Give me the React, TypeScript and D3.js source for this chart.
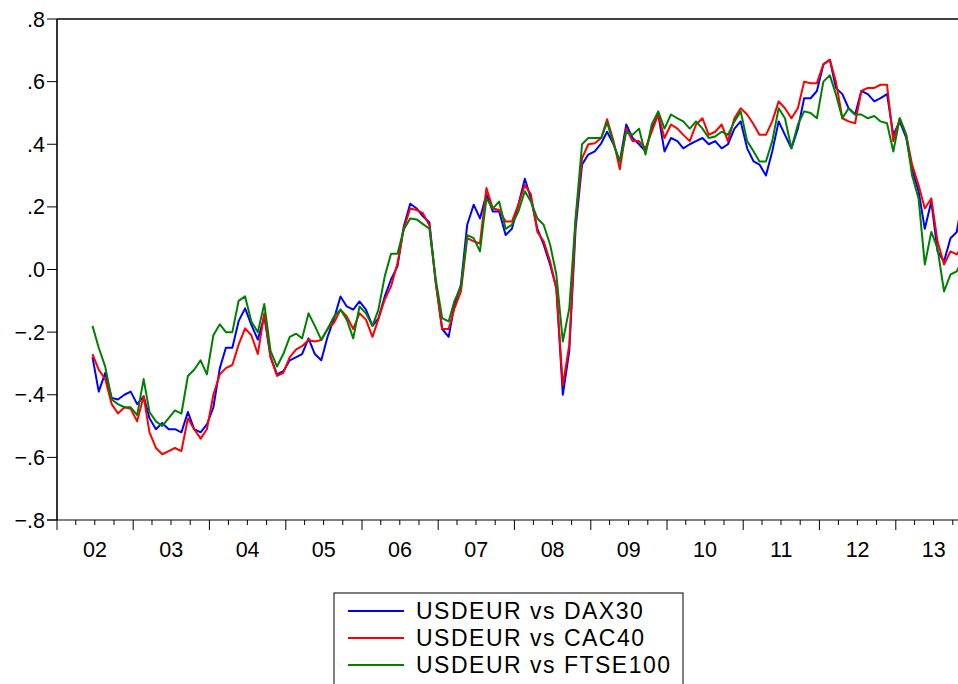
import React from "react";
import * as d3 from "d3";

// Monthly observations, June 2002 – November 2013
const dax30 = [
  -0.28, -0.39, -0.33, -0.41, -0.415, -0.40, -0.39, -0.43, -0.405, -0.475,
  -0.51, -0.49, -0.51, -0.51, -0.52, -0.455, -0.51, -0.52, -0.495, -0.44,
  -0.315, -0.25, -0.25, -0.165, -0.124, -0.177, -0.224, -0.15, -0.28, -0.335,
  -0.325, -0.29, -0.28, -0.27, -0.22, -0.27, -0.29, -0.215, -0.157, -0.086,
  -0.118, -0.128, -0.102, -0.128, -0.18, -0.157, -0.086, -0.032, 0.01, 0.137,
  0.21, 0.195, 0.17, 0.15, -0.04, -0.19, -0.215, -0.113, -0.048, 0.143,
  0.207, 0.163, 0.24, 0.185, 0.185, 0.11, 0.13, 0.207, 0.29, 0.227,
  0.13, 0.08, 0.016, -0.06, -0.40, -0.26, 0.13, 0.335, 0.367, 0.377,
  0.403, 0.44, 0.40, 0.345, 0.463, 0.42, 0.40, 0.377, 0.45, 0.495,
  0.377, 0.42, 0.41, 0.387, 0.40, 0.41, 0.42, 0.40, 0.41, 0.387,
  0.40, 0.45, 0.473, 0.387, 0.345, 0.335, 0.30, 0.377, 0.473, 0.43,
  0.387, 0.45, 0.547, 0.547, 0.57, 0.655, 0.67, 0.58, 0.56, 0.515,
  0.495, 0.57, 0.56, 0.537, 0.547, 0.56, 0.43, 0.473, 0.42, 0.32,
  0.25, 0.13, 0.217, 0.058, 0.026, 0.10, 0.12, 0.24,
];

const cac40 = [
  -0.27, -0.32, -0.35, -0.43, -0.46, -0.44, -0.445, -0.485, -0.405, -0.52,
  -0.57, -0.59, -0.58, -0.57, -0.58, -0.475, -0.51, -0.54, -0.51, -0.40,
  -0.335, -0.315, -0.305, -0.24, -0.188, -0.21, -0.27, -0.14, -0.28, -0.34,
  -0.33, -0.28, -0.255, -0.245, -0.225, -0.23, -0.225, -0.19, -0.17, -0.128,
  -0.15, -0.19, -0.14, -0.16, -0.215, -0.16, -0.096, -0.054, 0.02, 0.13,
  0.195, 0.19, 0.18, 0.14, -0.04, -0.19, -0.19, -0.124, -0.07, 0.10,
  0.09, 0.083, 0.26, 0.195, 0.19, 0.153, 0.153, 0.207, 0.27, 0.24,
  0.12, 0.09, 0.026, -0.06, -0.37, -0.24, 0.153, 0.355, 0.40, 0.403,
  0.42, 0.48, 0.41, 0.32, 0.45, 0.41, 0.41, 0.387, 0.44, 0.495,
  0.42, 0.463, 0.45, 0.43, 0.41, 0.463, 0.483, 0.43, 0.44, 0.463,
  0.41, 0.483, 0.515, 0.495, 0.463, 0.43, 0.43, 0.473, 0.537, 0.515,
  0.483, 0.515, 0.60, 0.595, 0.595, 0.655, 0.67, 0.60, 0.483, 0.473,
  0.467, 0.57, 0.58, 0.58, 0.59, 0.59, 0.41, 0.483, 0.43, 0.335,
  0.27, 0.195, 0.227, 0.09, 0.016, 0.058, 0.048, 0.08,
];

const ftse100 = [
  -0.18, -0.25, -0.31, -0.415, -0.43, -0.44, -0.44, -0.465, -0.35, -0.455,
  -0.485, -0.50, -0.475, -0.45, -0.46, -0.34, -0.32, -0.29, -0.335, -0.21,
  -0.175, -0.20, -0.20, -0.10, -0.086, -0.166, -0.20, -0.11, -0.26, -0.31,
  -0.27, -0.215, -0.205, -0.22, -0.14, -0.18, -0.225, -0.19, -0.15, -0.128,
  -0.16, -0.22, -0.118, -0.14, -0.18, -0.13, -0.022, 0.05, 0.05, 0.128,
  0.163, 0.16, 0.145, 0.13, -0.03, -0.155, -0.166, -0.10, -0.054, 0.11,
  0.10, 0.058, 0.227, 0.195, 0.217, 0.13, 0.143, 0.185, 0.25, 0.217,
  0.163, 0.143, 0.08, -0.016, -0.23, -0.124, 0.163, 0.40, 0.42, 0.42,
  0.42, 0.47, 0.40, 0.345, 0.44, 0.43, 0.45, 0.367, 0.463, 0.505,
  0.45, 0.495, 0.483, 0.473, 0.45, 0.473, 0.45, 0.42, 0.425, 0.44,
  0.43, 0.473, 0.505, 0.41, 0.377, 0.345, 0.345, 0.41, 0.515, 0.483,
  0.387, 0.463, 0.505, 0.50, 0.483, 0.60, 0.62, 0.56, 0.483, 0.515,
  0.495, 0.495, 0.483, 0.49, 0.473, 0.467, 0.377, 0.483, 0.43, 0.30,
  0.227, 0.016, 0.12, 0.067, -0.07, -0.016, -0.006, 0.04,
];

const seriesNames = ["USDEUR vs DAX30", "USDEUR vs CAC40", "USDEUR vs FTSE100"];
const seriesColors = ["#0000ff", "#ff0000", "#008000"];
const yTicks = [-0.8, -0.6, -0.4, -0.2, 0, 0.2, 0.4, 0.6, 0.8];
const yearLabels = ["02", "03", "04", "05", "06", "07", "08", "09", "10", "11", "12", "13"];

// observation dates: one per month, starting late June 2002
const dates = dax30.map((_, i) => new Date(2002, 5 + i, 20));

const W = 958;
const H = 684;
const FONT = "'Liberation Sans', Arial, Helvetica, sans-serif";

export default function App() {
  const left = 57;
  const yearW = 76.25;
  const top = 19;
  const bottom = 520;

  const x = d3
    .scaleTime()
    .domain([new Date(2002, 0, 1), new Date(2014, 0, 1)])
    .range([left, left + 12 * yearW]);
  const y = d3.scaleLinear().domain([-0.8, 0.8]).range([bottom, top]);

  const line = d3
    .line<number>()
    .x((_, i) => x(dates[i]))
    .y((d) => y(d));

  const data = [dax30, cac40, ftse100];

  const fmt = (v: number) => {
    const s = d3.format(".1f")(Math.abs(v) < 1e-9 ? 0 : v);
    return s.replace("0.", ".");
  };

  const majorTicks = d3.timeYear.range(new Date(2002, 0, 1), new Date(2014, 0, 2));
  const minorTicks = d3
    .timeMonth.every(3)!
    .range(new Date(2002, 0, 1), new Date(2014, 0, 1))
    .filter((d) => d.getMonth() !== 0);

  const legendX = 334;
  const legendY = 593;
  const rowY = [611, 638, 665];

  return (
    <svg
      width={W}
      height={H}
      style={{ position: "fixed", left: 0, top: 0, background: "#fff" }}
      fontFamily={FONT}
    >
      <rect x={0} y={0} width={W} height={H} fill="#fff" />
      <defs>
        <clipPath id="plot-area">
          <rect x={left} y={top - 5} width={W - left} height={bottom - top + 10} />
        </clipPath>
      </defs>

      {/* y axis ticks and labels */}
      {yTicks.map((t) => (
        <g key={t}>
          <line x1={left - 10} x2={left} y1={y(t)} y2={y(t)} stroke="#000" strokeWidth={1} />
          <text x={left - 12} y={y(t) + 7.5} textAnchor="end" fontSize={21.5} fill="#000">
            {fmt(t)}
          </text>
        </g>
      ))}

      {/* x axis ticks */}
      {majorTicks.map((d, i) => (
        <line key={"M" + i} x1={x(d)} x2={x(d)} y1={bottom} y2={bottom + 10} stroke="#000" strokeWidth={1} />
      ))}
      {minorTicks.map((d, i) => (
        <line key={"m" + i} x1={x(d)} x2={x(d)} y1={bottom} y2={bottom + 5} stroke="#000" strokeWidth={1} />
      ))}
      {yearLabels.map((lab, i) => (
        <text
          key={lab}
          x={x(new Date(2002 + i, 6, 2))}
          y={557}
          textAnchor="middle"
          fontSize={21.5}
          fill="#000"
        >
          {lab}
        </text>
      ))}

      {/* series */}
      <g clipPath="url(#plot-area)">
        {data.map((s, k) => (
          <path
            key={seriesNames[k]}
            d={line(s) || ""}
            fill="none"
            stroke={seriesColors[k]}
            strokeWidth={2}
            strokeLinejoin="round"
          />
        ))}
      </g>

      {/* frame */}
      <line x1={left} x2={W} y1={top} y2={top} stroke="#000" strokeWidth={1.6} />
      <line x1={left} x2={left} y1={top} y2={bottom} stroke="#000" strokeWidth={1.6} />
      <line x1={left - 10} x2={W} y1={bottom} y2={bottom} stroke="#000" strokeWidth={1.2} />

      {/* legend */}
      <rect
        x={legendX}
        y={legendY}
        width={683 - legendX}
        height={H - legendY + 5}
        fill="#fff"
        stroke="#000"
        strokeWidth={1}
      />
      {seriesNames.map((name, k) => (
        <g key={name}>
          <line x1={348} x2={404} y1={rowY[k]} y2={rowY[k]} stroke={seriesColors[k]} strokeWidth={2} />
          <text x={416} y={rowY[k] + 8} fontSize={23} letterSpacing={1.5} fill="#000">
            {name}
          </text>
        </g>
      ))}
    </svg>
  );
}
